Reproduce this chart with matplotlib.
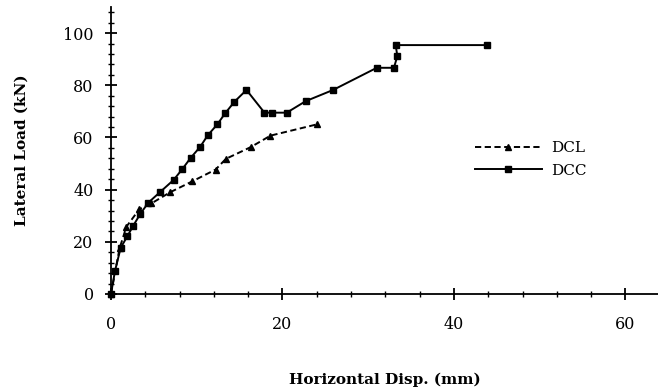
import matplotlib
matplotlib.use("Agg")
import matplotlib.pyplot as plt
from matplotlib.ticker import MultipleLocator

plt.rcParams['font.family'] = ['DejaVu Serif']

dcl_x = [0, 1.0, 1.8, 3.3, 4.7, 6.9, 9.5, 12.2, 13.4, 16.3, 18.6, 24.0]
dcl_y = [0, 17.5, 25.8, 32.5, 34.7, 39.0, 43.2, 47.7, 51.8, 56.3, 60.7, 65.0]

dcc_x = [0, 0.47, 1.13, 1.9, 2.6, 3.4, 4.35, 5.7, 7.3, 8.3, 9.3, 10.4, 11.3, 12.4,
         13.3, 14.4, 15.8, 17.9, 18.8, 20.5, 22.7, 25.9, 31.0, 33.0, 33.4, 33.2, 43.9]
dcc_y = [0, 8.9, 17.7, 22.1, 26.2, 30.6, 35.0, 39.0, 43.7, 47.8, 52.2, 56.4, 60.9, 65.0,
         69.2, 73.7, 78.2, 69.5, 69.5, 69.5, 73.9, 78.2, 86.7, 86.7, 91.2, 95.4, 95.4]

x_ticks = [0, 20, 40, 60]
y_ticks = [0, 20, 40, 60, 80, 100]

fig = plt.figure(figsize=(6.58, 3.91), dpi=100)
ax = fig.add_axes([111/658, 1-294/391, 1-111/658, (294-7)/391])

ax.plot(dcl_x, dcl_y, linestyle=(0, (3.2, 1.8)), color='black', linewidth=1.4,
        marker='^', markersize=5, label='DCL', clip_on=False)
ax.plot(dcc_x, dcc_y, linestyle='-', color='black', linewidth=1.4,
        marker='s', markersize=5, label='DCC', clip_on=False)

ax.set_xlim(0, 63.8)
ax.set_ylim(0, 110)
ax.set_xticks(x_ticks)
ax.set_yticks(y_ticks)
ax.xaxis.set_minor_locator(MultipleLocator(4))
ax.yaxis.set_minor_locator(MultipleLocator(4))
ax.tick_params(which='major', direction='inout', length=9, width=1.3, labelsize=11.5)
ax.tick_params(axis='x', which='major', pad=11)
ax.tick_params(axis='y', which='major', pad=8)
ax.tick_params(which='minor', direction='inout', length=5, width=1.0)
for s in ['top', 'right']:
    ax.spines[s].set_visible(False)
for s in ['left', 'bottom']:
    ax.spines[s].set_linewidth(1.3)

ax.set_xlabel('Horizontal Disp. (mm)', fontweight='bold', fontsize=11, labelpad=29)
ax.set_ylabel('Lateral Load (kN)', fontweight='bold', fontsize=11, labelpad=25)

ax.legend(loc='upper left', bbox_to_anchor=(0.64, 0.58), frameon=False,
          handlelength=4.4, fontsize=11, labelspacing=0.55, handletextpad=0.6)

fig.savefig('out.png', dpi=100)
